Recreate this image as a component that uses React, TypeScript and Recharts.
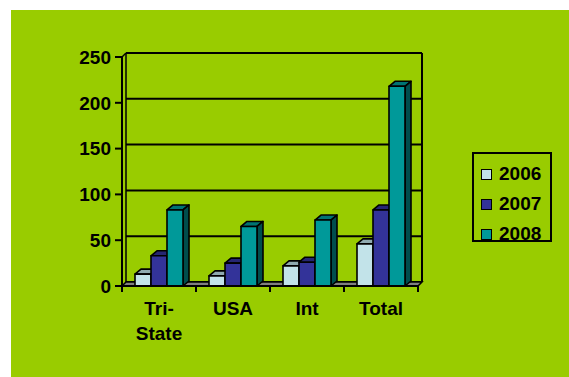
import React from "react";
import { BarChart, Bar, XAxis, YAxis, CartesianGrid, Legend, Customized } from "recharts";

const categories = ["Tri-State", "USA", "Int", "Total"];
const values2006 = [13, 11, 22, 46];
const values2007 = [33, 25, 26, 83];
const values2008 = [83, 65, 72, 218];
const yTicks = [0, 50, 100, 150, 200, 250];

const data = categories.map((c, i) => ({
  name: c,
  y2006: values2006[i],
  y2007: values2007[i],
  y2008: values2008[i],
}));

const FONT = "'Liberation Sans', Arial, sans-serif";
const FS = 19;
const W = 569;
const H = 377;
const MARGIN = { top: 57, right: 151, bottom: 31, left: 62 };
const YAXIS_W = 60;
const XAXIS_H = 60;
const PL = MARGIN.left + YAXIS_W; // 122
const PR = W - MARGIN.right; // 418
const PT = MARGIN.top;
const PB = H - MARGIN.bottom - XAXIS_H; // 286
const DX = 4;
const DY = -4;
const BDX = 6;
const BDY = -5;

const colors = {
  y2006: { front: "#C2E3E9", top: "#8FAAB0", side: "#5F7378" },
  y2007: { front: "#333399", top: "#262673", side: "#1A1A4D" },
  y2008: { front: "#009999", top: "#007373", side: "#004D4D" },
};

const makeShape = (c: { front: string; top: string; side: string }) => (p: any) => {
  const { x, y, width: w, height: h } = p;
  if (!h || h <= 0) return <g />;
  const sw = 1.6;
  return (
    <g stroke="#000" strokeWidth={sw} strokeLinejoin="round">
      <polygon
        points={`${x},${y} ${x + BDX},${y + BDY} ${x + w + BDX},${y + BDY} ${x + w},${y}`}
        fill={c.top}
      />
      <polygon
        points={`${x + w},${y} ${x + w + BDX},${y + BDY} ${x + w + BDX},${y + h + BDY} ${x + w},${y + h}`}
        fill={c.side}
      />
      <rect x={x} y={y} width={w} height={h} fill={c.front} />
    </g>
  );
};

const Frame = () => {
  const band = (PR - PL) / categories.length;
  return (
    <g>
      <polygon
        points={`${PL},${PB} ${PR},${PB} ${PR + DX},${PB + DY} ${PL + DX},${PB + DY}`}
        fill="#808080"
        stroke="#000"
        strokeWidth={1.5}
      />
      <line x1={PR + DX} y1={PT + DY} x2={PR + DX} y2={PB + DY} stroke="#000" strokeWidth={2} />
      <line x1={PL + DX} y1={PT + DY} x2={PL + DX} y2={PB + DY} stroke="#000" strokeWidth={1.5} />
      <line x1={PL} y1={PT} x2={PL + DX} y2={PT + DY} stroke="#000" strokeWidth={1.5} />
      {categories.concat([""]).map((_, i) => (
        <line
          key={i}
          x1={PL + band * i}
          y1={PB}
          x2={PL + band * i}
          y2={PB + 6}
          stroke="#000"
          strokeWidth={2}
        />
      ))}
    </g>
  );
};

const XTick = (props: any) => {
  const { x, y, payload } = props;
  const v: string = payload.value;
  const lines = v.includes("-") ? [v.slice(0, v.indexOf("-") + 1), v.slice(v.indexOf("-") + 1)] : [v];
  return (
    <text
      x={x}
      y={y}
      textAnchor="middle"
      fontFamily={FONT}
      fontWeight="bold"
      fontSize={FS}
      fill="#000"
    >
      {lines.map((l, i) => (
        <tspan key={i} x={x} dy={i === 0 ? 21 : 25}>
          {l}
        </tspan>
      ))}
    </text>
  );
};

const LegendContent = (props: any) => {
  const payload = props.payload || [];
  return (
    <div
      style={{
        width: 80,
        height: 90,
        border: "2px solid #000",
        boxSizing: "border-box",
        fontFamily: FONT,
        fontWeight: "bold",
        fontSize: FS,
        color: "#000",
        paddingTop: 5,
      }}
    >
      {payload.map((e: any, i: number) => (
        <div key={i} style={{ display: "flex", alignItems: "center", height: 30 }}>
          <div
            style={{
              width: 11,
              height: 11,
              boxSizing: "border-box",
              border: "1.5px solid #000",
              background: e.color,
              marginLeft: 7,
              marginRight: 7,
            }}
          />
          <span style={{ lineHeight: "20px" }}>{e.value}</span>
        </div>
      ))}
    </div>
  );
};

export default function App() {
  return (
    <div style={{ position: "absolute", left: 0, top: 0, width: W, height: H, background: "#fff" }}>
      <div
        style={{
          position: "absolute",
          left: 11,
          top: 10,
          width: W - 11,
          height: H - 10,
          background: "#99CC00",
        }}
      />
      <div style={{ position: "absolute", left: 0, top: 0 }}>
        <BarChart width={W} height={H} data={data} margin={MARGIN} barCategoryGap={13} barGap={0}>
          <CartesianGrid
            vertical={false}
            horizontal={(p: any) => (
              <line
                key={p.key}
                x1={p.x1 + DX}
                y1={p.y1 + DY}
                x2={p.x2 + DX}
                y2={p.y2 + DY}
                stroke="#000"
                strokeWidth={2}
              />
            )}
          />
          <Customized component={<Frame />} />
          <XAxis
            dataKey="name"
            height={XAXIS_H}
            axisLine={{ stroke: "#000", strokeWidth: 2 }}
            tickLine={false}
            tick={<XTick />}
            interval={0}
          />
          <YAxis
            width={YAXIS_W}
            domain={[0, 250]}
            ticks={yTicks}
            axisLine={{ stroke: "#000", strokeWidth: 2 }}
            tickLine={{ stroke: "#000", strokeWidth: 2 }}
            tickSize={7}
            tickMargin={4}
            tick={{ fontSize: FS, fontWeight: "bold", fill: "#000", fontFamily: FONT }}
          />
          <Legend
            layout="vertical"
            align="center"
            verticalAlign="middle"
            content={<LegendContent />}
            wrapperStyle={{ position: "absolute", left: 472, top: 152, width: 80, height: 90 }}
          />
          <Bar dataKey="y2006" name="2006" fill={colors.y2006.front} shape={makeShape(colors.y2006)} isAnimationActive={false} />
          <Bar dataKey="y2007" name="2007" fill={colors.y2007.front} shape={makeShape(colors.y2007)} isAnimationActive={false} />
          <Bar dataKey="y2008" name="2008" fill={colors.y2008.front} shape={makeShape(colors.y2008)} isAnimationActive={false} />
        </BarChart>
      </div>
    </div>
  );
}
